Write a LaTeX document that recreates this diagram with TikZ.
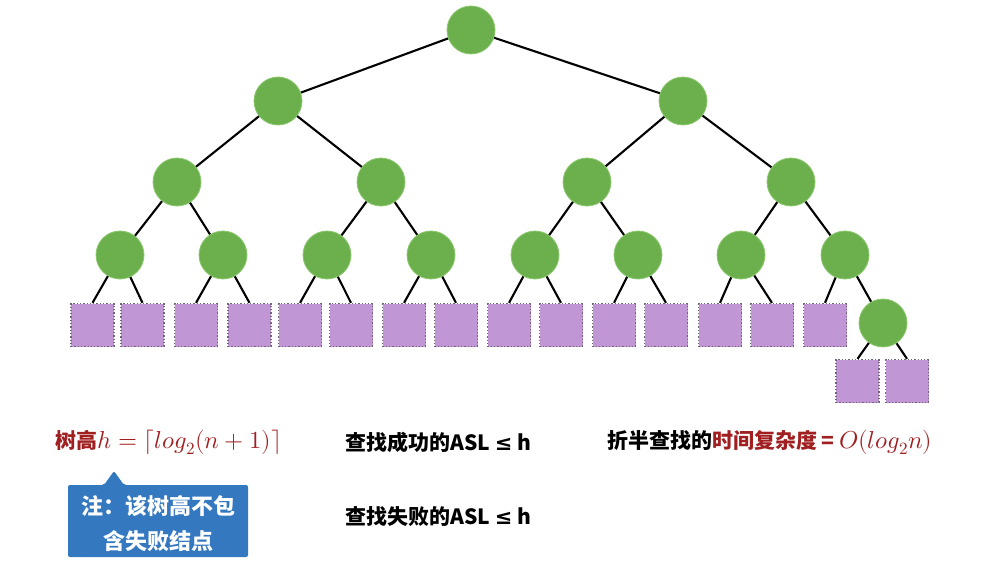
\documentclass[tikz,border=0pt]{standalone}
\usepackage{fontspec}
\usepackage{unicode-math}
\setmathfont{Latin Modern Math}
\newfontfamily\cjk{Noto Sans CJK SC}
\newfontfamily\dvs{DejaVu Sans}
\definecolor{nodegreen}{RGB}{108,176,78}
\definecolor{nodeedge}{RGB}{140,200,110}
\definecolor{leafpurple}{RGB}{192,150,213}
\definecolor{leafedge}{RGB}{115,100,125}
\definecolor{txtred}{RGB}{160,32,34}
\definecolor{calloutblue}{RGB}{52,120,192}
\tikzset{
  inner/.style={circle, minimum size=48pt, inner sep=0pt, fill=nodegreen, draw=nodeedge, line width=0.8pt},
  leaf/.style={rectangle, minimum size=43pt, inner sep=0pt, fill=leafpurple, draw=leafedge, dotted, line width=1.3pt},
  edge/.style={draw=black, line width=2.1pt},
  lbl/.style={font=\cjk\bfseries\fontsize{21}{25}\selectfont, inner sep=0pt, anchor=west},
}
\newcommand{\mbig}[1]{{\fontsize{24.5}{28}\selectfont$#1$}}
\newcommand{\leqs}{{\dvs ≤}}
\begin{document}
\begin{tikzpicture}[x=1pt,y=-1pt]
\useasboundingbox (0,0) rectangle (991,567);
\coordinate (r) at (471,30);
\coordinate (a) at (278,101);
\coordinate (b) at (683,101);
\coordinate (c1) at (177,182);
\coordinate (c2) at (381,182);
\coordinate (c3) at (587,182);
\coordinate (c4) at (791,182);
\coordinate (d1) at (120,255);
\coordinate (d2) at (223,255);
\coordinate (d3) at (327,255);
\coordinate (d4) at (431,255);
\coordinate (d5) at (535,255);
\coordinate (d6) at (638,255);
\coordinate (d7) at (741,255);
\coordinate (d8) at (845,255);
\coordinate (e) at (883,323);
% leaves
\node[leaf] (s1) at (92.5,325) {};
\node[leaf] (s2) at (142.5,325) {};
\node[leaf] (s3) at (196,325) {};
\node[leaf] (s4) at (249.5,325) {};
\node[leaf] (s5) at (300,325) {};
\node[leaf] (s6) at (351,325) {};
\node[leaf] (s7) at (404,325) {};
\node[leaf] (s8) at (456,325) {};
\node[leaf] (s9) at (509,325) {};
\node[leaf] (s10) at (561,325) {};
\node[leaf] (s11) at (614,325) {};
\node[leaf] (s12) at (666,325) {};
\node[leaf] (s13) at (720,325) {};
\node[leaf] (s14) at (772,325) {};
\node[leaf] (s15) at (825,325) {};
\node[leaf] (s16) at (857.5,381) {};
\node[leaf] (s17) at (907,381) {};
\foreach \p/\c in {r/a,r/b,a/c1,a/c2,b/c3,b/c4,c1/d1,c1/d2,c2/d3,c2/d4,c3/d5,c3/d6,c4/d7,c4/d8,d8/e}
  \path[edge] (\p) -- (\c);
\foreach \p/\c in {d1/s1,d1/s2,d2/s3,d2/s4,d3/s5,d3/s6,d4/s7,d4/s8,d5/s9,d5/s10,d6/s11,d6/s12,d7/s13,d7/s14,d8/s15,e/s16,e/s17}
  \path[edge] (\p) -- (\c.north);
% internal nodes on top
\foreach \n in {r,a,b,c1,c2,c3,c4,d1,d2,d3,d4,d5,d6,d7,d8,e}
  \node[inner] (n\n) at (\n) {};
% texts
\node[lbl, text=txtred] (t1) at (55,442) {树高\mbig{h=\left\lceil log_2(n+1)\right\rceil}};
\node[lbl] (t2) at (345,442) {查找成功的ASL \leqs{} h};
\node[lbl] (t3) at (345,517) {查找失败的ASL \leqs{} h};
\node[lbl] (t4) at (607,442) {折半查找的\textcolor{txtred}{时间复杂度 = \mbig{O(log_2n)}}};
% callout
\fill[calloutblue, rounded corners=2pt] (68,485) -- (104,485) -- (114,471) -- (124,485) -- (248,485) -- (248,557) -- (68,557) -- cycle;
\node[font=\cjk\bfseries\fontsize{22}{35}\selectfont, text=white, align=center, inner sep=0pt] (note) at (158,524) {注：该树高不包\\含失败结点};
\end{tikzpicture}
\end{document}
